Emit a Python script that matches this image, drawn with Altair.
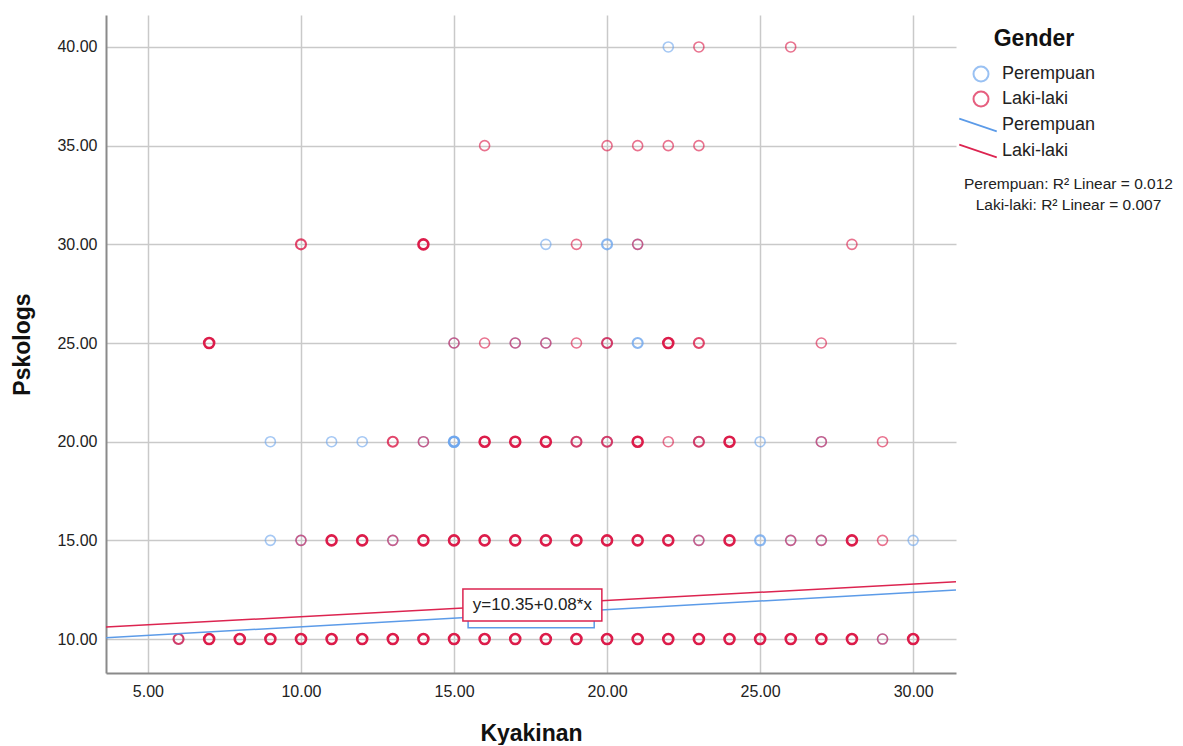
import altair as alt
import pandas as pd

genders = ["Perempuan", "Laki-laki"]
point_colors = ["#6fa7ee", "#dc1c4a"]
line_colors = ["#5c9be8", "#dc2450"]

# Perempuan scatter (x = Kyakinan, y = Pskologs, n = approx. overlapping cases)
p_x = [22,
       18, 20, 21,
       15, 17, 18, 20, 21,
       9, 11, 12, 14, 15, 19, 20, 23, 25, 27,
       9, 10, 13, 23, 25, 26, 27, 30,
       6, 15, 20, 25, 29]
p_y = [40,
       30, 30, 30,
       25, 25, 25, 25, 25,
       20, 20, 20, 20, 20, 20, 20, 20, 20, 20,
       15, 15, 15, 15, 15, 15, 15, 15,
       10, 10, 10, 10, 10]
p_n = [1,
       1, 2, 1,
       1, 1, 1, 1, 2,
       1, 1, 1, 1, 3, 1, 1, 1, 1, 1,
       1, 1, 1, 1, 2, 1, 1, 1,
       1, 1, 1, 1, 1]

# Laki-laki scatter
l_x = [23, 26,
       16, 20, 21, 22, 23,
       10, 14, 19, 21, 28,
       7, 15, 16, 17, 18, 19, 20, 22, 23, 27,
       13, 14, 16, 17, 18, 19, 20, 21, 22, 23, 24, 27, 29,
       10, 11, 12, 13, 14, 15, 16, 17, 18, 19, 20, 21, 22, 23, 24, 26, 27, 28, 29,
       6, 7, 8, 9, 10, 11, 12, 13, 14, 15, 16, 17, 18, 19, 20, 21, 22, 23, 24, 25, 26, 27, 28, 29, 30]
l_y = [40, 40,
       35, 35, 35, 35, 35,
       30, 30, 30, 30, 30,
       25, 25, 25, 25, 25, 25, 25, 25, 25, 25,
       20, 20, 20, 20, 20, 20, 20, 20, 20, 20, 20, 20, 20,
       15, 15, 15, 15, 15, 15, 15, 15, 15, 15, 15, 15, 15, 15, 15, 15, 15, 15, 15,
       10, 10, 10, 10, 10, 10, 10, 10, 10, 10, 10, 10, 10, 10, 10, 10, 10, 10, 10, 10, 10, 10, 10, 10, 10]
l_n = [1, 1,
       1, 1, 1, 1, 1,
       2, 3, 1, 1, 1,
       3, 1, 1, 1, 1, 1, 2, 3, 2, 1,
       2, 1, 3, 3, 3, 2, 2, 3, 1, 2, 3, 1, 1,
       1, 3, 3, 1, 3, 3, 3, 3, 3, 3, 3, 3, 3, 1, 3, 1, 1, 3, 1,
       2, 3, 3, 3, 3, 3, 3, 3, 3, 3, 3, 3, 3, 3, 3, 3, 3, 3, 3, 3, 3, 3, 3, 1, 3]

# Fit lines (end points)
line_gender = ["Perempuan", "Perempuan", "Laki-laki", "Laki-laki"]
line_x = [3.63, 31.4, 3.63, 31.4]
line_y = [10.07, 12.48, 10.61, 12.90]

# Equation label boxes (blue one hidden behind the red one)
box_x = [15.46, 15.29]
box_x2 = [19.58, 19.83]
box_y = [10.57, 10.91]
box_y2 = [12.20, 12.53]
eq_text = ["y=10.35+0.08*x"]
eq_x = [17.56]
eq_y = [11.72]

r2_labels = ["Perempuan: R\u00b2 Linear = 0.012", "Laki-laki: R\u00b2 Linear = 0.007"]

x_ticks = [5, 10, 15, 20, 25, 30]
y_ticks = [10, 15, 20, 25, 30, 35, 40]
x_domain = [3.63, 31.4]
y_domain = [8.28, 41.62]

FONT = "Liberation Sans"

pts = pd.DataFrame({
    "Kyakinan": p_x + l_x,
    "Pskologs": p_y + l_y,
    "n": p_n + l_n,
    "Gender": ["Perempuan"] * len(p_x) + ["Laki-laki"] * len(l_x),
    "ord": list(range(len(p_x) + len(l_x))),
})
lines = pd.DataFrame({"Kyakinan": line_x, "Pskologs": line_y, "Gender": line_gender})
boxes = pd.DataFrame({"x": box_x, "x2": box_x2, "y": box_y, "y2": box_y2, "Gender": genders})
eq = pd.DataFrame({"x": eq_x, "y": eq_y, "t": eq_text})
r2 = pd.DataFrame({"lab": r2_labels})

xs = alt.Scale(domain=x_domain, nice=False, zero=False)
ys = alt.Scale(domain=y_domain, nice=False, zero=False)

points = alt.Chart(pts).mark_point(filled=False, size=100, clip=True).encode(
    x=alt.X("Kyakinan:Q", scale=xs,
            axis=alt.Axis(values=x_ticks, format=".2f", title="Kyakinan",
                          labelPadding=10, titlePadding=23)),
    y=alt.Y("Pskologs:Q", scale=ys,
            axis=alt.Axis(values=y_ticks, format=".2f", title="Pskologs",
                          labelPadding=9, titlePadding=22)),
    color=alt.Color("Gender:N", scale=alt.Scale(domain=genders, range=point_colors),
                    legend=alt.Legend(orient="none", legendX=866, legendY=13,
                                      title="Gender", titleAnchor="middle",
                                      symbolType="circle", symbolSize=225,
                                      symbolStrokeWidth=2, labelOffset=12,
                                      titlePadding=14, rowPadding=1)),
    opacity=alt.Opacity("n:Q", scale=alt.Scale(domain=[1, 3], range=[0.62, 1.0]), legend=None),
    strokeWidth=alt.StrokeWidth("n:Q", scale=alt.Scale(domain=[1, 3], range=[1.6, 2.6]), legend=None),
    order=alt.Order("ord:Q"),
)

fit = alt.Chart(lines).mark_line(strokeWidth=1.5, clip=True).encode(
    x=alt.X("Kyakinan:Q", scale=xs),
    y=alt.Y("Pskologs:Q", scale=ys),
    color=alt.Color("Gender:N", scale=alt.Scale(domain=genders, range=line_colors),
                    legend=alt.Legend(orient="none", legendX=863, legendY=101,
                                      title=None,
                                      symbolType="M -2.5 -0.85 L 2.5 0.85",
                                      symbolSize=225, symbolStrokeWidth=1.6,
                                      labelOffset=15, rowPadding=6)),
)

box_blue = alt.Chart(boxes.iloc[[0]]).mark_rect(fill="white", stroke=line_colors[0], strokeWidth=1.5).encode(
    x=alt.X("x:Q", scale=xs), x2="x2:Q", y=alt.Y("y:Q", scale=ys), y2="y2:Q")
box_red = alt.Chart(boxes.iloc[[1]]).mark_rect(fill="white", stroke=line_colors[1], strokeWidth=1.5).encode(
    x=alt.X("x:Q", scale=xs), x2="x2:Q", y=alt.Y("y:Q", scale=ys), y2="y2:Q")
eq_label = alt.Chart(eq).mark_text(font=FONT, fontSize=17, color="#222222",
                                   align="center", baseline="middle").encode(
    x=alt.X("x:Q", scale=xs), y=alt.Y("y:Q", scale=ys), text="t:N")

r2_leg = alt.Chart(r2).mark_point(opacity=0).encode(
    x=alt.value(0), y=alt.value(0),
    shape=alt.Shape("lab:N", scale=alt.Scale(domain=r2_labels),
                    legend=alt.Legend(orient="none", legendX=947, legendY=161,
                                      title=None, symbolSize=0, symbolOpacity=0,
                                      labelOffset=0, labelAlign="center", labelLimit=400,
                                      labelFontSize=15.5, rowPadding=4)),
)

chart = alt.layer(points, fit, box_blue, box_red, eq_label, r2_leg).resolve_scale(
    color="independent"
).properties(
    width=850, height=658,
    padding={"left": 11, "top": 12, "right": 0, "bottom": 0},
).configure_view(strokeWidth=0).configure_axis(
    domainColor="#8a8a8a", domainWidth=2,
    gridColor="#c9c9c9", gridWidth=1.5,
    ticks=False,
    labelFont=FONT, labelFontSize=16, labelColor="#222222",
    titleFont=FONT, titleFontSize=23, titleFontWeight="bold", titleColor="#111111",
).configure_legend(
    labelFont=FONT, labelFontSize=18, labelColor="#222222",
    titleFont=FONT, titleFontSize=23, titleFontWeight="bold", titleColor="#111111",
    padding=0,
)

chart.save("out.html", embed_options={"renderer": "svg", "actions": False})
